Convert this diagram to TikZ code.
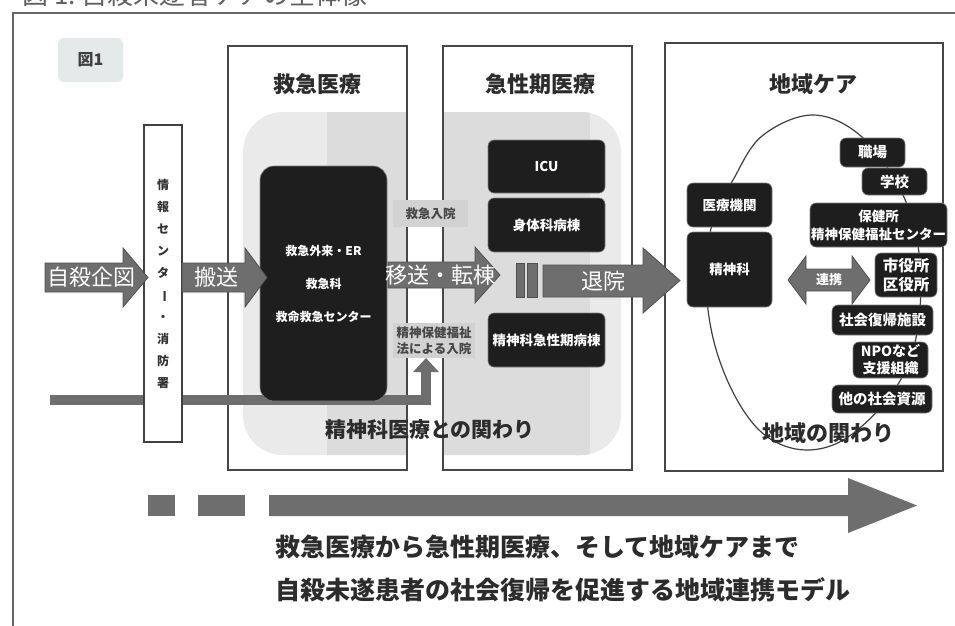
\documentclass[tikz,border=0pt]{standalone}
\usepackage{fontspec}
\setmainfont{Noto Sans CJK JP}
\usepackage{graphicx}
\usetikzlibrary{arrows.meta}
\definecolor{arr}{HTML}{6E6E6E}
\definecolor{arrd}{HTML}{505050}
\definecolor{blk}{HTML}{1E1E1E}
\definecolor{regl}{HTML}{EAEAEA}
\definecolor{regd}{HTML}{DCDCDC}
\definecolor{lblbg}{HTML}{D2D2D2}
\definecolor{txt}{HTML}{2C2C2C}
\definecolor{figbg}{HTML}{E4E9E9}
\newcommand\fsz[2]{\fontsize{#1}{#2}\selectfont}
\tikzset{
  secbox/.style={draw=black!72, line width=1.3pt},
  sectitle/.style={text=txt, font=\bfseries\fsz{22}{24}},
  blkbox/.style={fill=blk, draw=black!50, line width=0.6pt, rounded corners=6pt, text=white, inner sep=0pt, align=center, font=\bfseries\fsz{13.5}{17}},
  grayarrow/.style={fill=arr, draw=arrd, line width=0.8pt},
  arrtext/.style={text=white, font=\fsz{22}{24}, inner sep=0pt},
  lblbox/.style={fill=lblbg, inner sep=0pt, text=black!72, align=center, font=\bfseries\fsz{12.5}{16}},
  bigtext/.style={text=txt, font=\bfseries\fsz{21}{24}, inner sep=0pt},
  bottomtext/.style={text=txt, font=\bfseries\fsz{25}{28}, inner sep=0pt, anchor=west},
}
\begin{document}
\begin{tikzpicture}[x=1pt, y=-1pt]
\useasboundingbox (0,0) rectangle (955,625);
\fill[white] (0,0) rectangle (955,625);
% outer frame
\draw[draw=black!60, line width=1.4pt] (13,626) -- (13,13) -- (956,13);
% cut title at top
\node[anchor=west, text=black!62, font=\fsz{26}{28}, inner sep=0pt] (toptitle) at (22,-5) {図 1.\ 自殺未遂者ケアの全体像};
% fig label
\node[fill=figbg, rounded corners=6pt, minimum width=65pt, minimum height=44pt, inner sep=0pt, text=black!75, font=\bfseries\fsz{16}{18}] (figlbl) at (90.5,60) {図1};
% gray region
\path[fill=regl, rounded corners=40pt] (243,112) rectangle (621,455);
\begin{scope}
  \clip[rounded corners=40pt] (243,112) rectangle (621,455);
  \fill[regd] (327,100) rectangle (590,470);
\end{scope}
\fill[white] (408,105) rectangle (442,465);
% section boxes
\draw[secbox] (228,46) rectangle (407,470);
\draw[secbox] (443,46) rectangle (632,470);
\draw[secbox] (665,43) rectangle (943,471);
\node[sectitle] (t1) at (317,84) {救急医療};
\node[sectitle] (t2) at (540,84) {急性期医療};
\node[sectitle] (t3) at (813,84) {地域ケア};
% community ring
\draw[black!75, line width=1.2pt] plot[smooth cycle, tension=0.6] coordinates {(813,115) (862,137) (903,195) (920,262) (916,338) (893,392) (848,437) (806,450) (766,436) (736,398) (714,342) (706,280) (713,220) (733,180) (762,136)};
% long line into psychiatric admission
\coordinate (lstart) at (50,400);
\coordinate (uptip) at (426,358);
\draw[arr, line width=10.5pt, -{Triangle[length=14pt,width=25pt]}] (lstart) -| (uptip);
% info box
\node[draw=black!75, line width=1.3pt, fill=white, minimum width=38pt, minimum height=317pt, inner sep=0pt, align=center, text=black!80, font=\bfseries\fsz{12}{22}] (info) at (163,283.5)
 {情\\報\\セ\\ン\\タ\\\rotatebox[origin=c]{-90}{ー}\\・\\消\\防\\署};
% labels
\node[lblbox, minimum width=75pt, minimum height=27pt] (nyuin) at (430.5,213.5) {救急入院};
\node[lblbox, minimum width=82pt, minimum height=35pt] (hoken) at (434,340.5) {精神保健福祉\\法による入院};
% black boxes
\node[blkbox, rounded corners=14pt, minimum width=127pt, minimum height=235pt, font=\bfseries\fsz{12}{33}] (er) at (323.5,283.5) {救急外来・ER\\救急科\\救命救急センター};
\node[blkbox, minimum width=117pt, minimum height=53pt] (icu) at (546.5,166.5) {ICU};
\node[blkbox, minimum width=117pt, minimum height=54pt] (shintai) at (546.5,225) {身体科病棟};
\node[blkbox, minimum width=117pt, minimum height=54pt] (psyward) at (546.5,340) {精神科急性期病棟};
\node[blkbox, minimum width=85pt, minimum height=44pt] (iryo) at (729.5,205) {医療機関};
\node[blkbox, minimum width=85pt, minimum height=75pt] (seishin) at (729.5,269.5) {精神科};
\node[blkbox, minimum width=65pt, minimum height=29pt, font=\bfseries\fsz{14.5}{17}] (shokuba) at (872.5,152.5) {職場};
\node[blkbox, minimum width=65pt, minimum height=27pt, font=\bfseries\fsz{14.5}{17}] (gakko) at (894.5,181.5) {学校};
\node[blkbox, minimum width=137pt, minimum height=44pt, font=\bfseries\fsz{13.5}{18}] (hokenjo) at (878.5,225) {保健所\\精神保健福祉センター};
\node[blkbox, minimum width=62pt, minimum height=44pt, font=\bfseries\fsz{15.5}{19}] (shiyaku) at (906,275) {市役所\\区役所};
\node[blkbox, minimum width=101pt, minimum height=30pt, font=\bfseries\fsz{14.5}{17}] (shakai) at (882.5,320) {社会復帰施設};
\node[blkbox, minimum width=75pt, minimum height=36pt, font=\bfseries\fsz{14}{17}] (npo) at (890.5,360) {NPOなど\\支援組織};
\node[blkbox, minimum width=100pt, minimum height=28pt, font=\bfseries\fsz{14.5}{17}] (hoka) at (882,399) {他の社会資源};
% block arrows
\filldraw[grayarrow] (45,263) -- (123,263) -- (123,248) -- (148,277.5) -- (123,307) -- (123,292) -- (45,292) -- cycle;
\node[arrtext] (a1) at (91,277.5) {自殺企図};
\filldraw[grayarrow] (182,263) -- (245,263) -- (245,248) -- (267,277.5) -- (245,307) -- (245,292) -- (182,292) -- cycle;
\node[arrtext] (a2) at (216,277.5) {搬送};
\filldraw[grayarrow] (388,262) -- (475,262) -- (475,247) -- (500,275) -- (475,303) -- (475,288) -- (388,288) -- cycle;
\node[arrtext] (a3) at (440,275) {移送・転棟};
\filldraw[grayarrow] (516,263) rectangle (524,297);
\filldraw[grayarrow] (527,263) rectangle (537,297);
\filldraw[grayarrow] (543,265) -- (643,265) -- (643,248) -- (680,280.5) -- (643,313) -- (643,297) -- (543,297) -- cycle;
\node[arrtext] (a4) at (603,281) {退院};
\filldraw[grayarrow] (788,280) -- (806,256) -- (806,269) -- (852,269) -- (852,256) -- (870,280) -- (852,304) -- (852,291) -- (806,291) -- (806,304) -- cycle;
\node[arrtext, font=\bfseries\fsz{13}{15}] (renkei) at (829,280) {連携};
% big texts
\node[bigtext] (kakawari1) at (430,430) {精神科医療との関わり};
\node[bigtext, font=\bfseries\fsz{22}{24}] (kakawari2) at (828,433) {地域の関わり};
% bottom arrow
\fill[arr] (148,495) rectangle (175,516);
\fill[arr] (198,495) rectangle (245,516);
\fill[arr] (269,495) -- (848,495) -- (848,478) -- (917,505.5) -- (848,533) -- (848,516) -- (269,516) -- cycle;
\node[bottomtext] (b1) at (275,547) {救急医療から急性期医療、そして地域ケアまで};
\node[bottomtext] (b2) at (275,590) {自殺未遂患者の社会復帰を促進する地域連携モデル};
\end{tikzpicture}
\end{document}
